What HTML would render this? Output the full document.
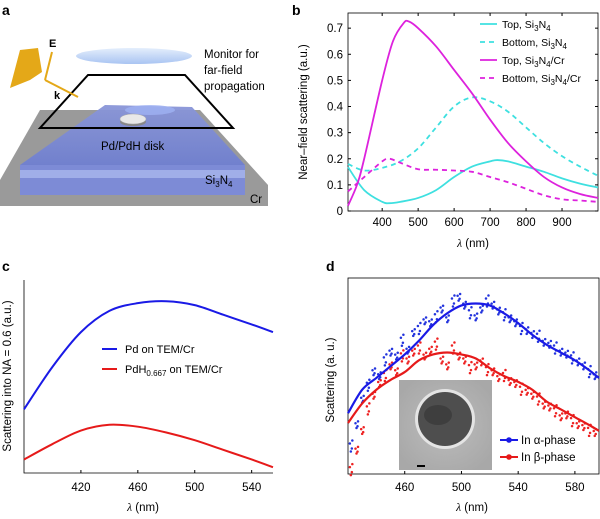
<!DOCTYPE html>
<html><head><meta charset="utf-8"><style>
body{margin:0;background:#fff;width:600px;height:514px;overflow:hidden}
svg{font-family:"Liberation Sans",sans-serif}
</style></head><body>
<svg id="fig" width="600" height="514" viewBox="0 0 600 514">
<defs>
<linearGradient id="slab" x1="0" y1="0" x2="0" y2="1"><stop offset="0" stop-color="#8a96d8"/><stop offset="1" stop-color="#6f7fd0"/></linearGradient>
<linearGradient id="lens" x1="0" y1="0" x2="0" y2="1"><stop offset="0" stop-color="#e4eefc"/><stop offset="1" stop-color="#a9c4f2"/></linearGradient>
<radialGradient id="tem" cx="0.5" cy="0.5" r="0.6"><stop offset="0" stop-color="#bdbdbd"/><stop offset="1" stop-color="#a8a8a8"/></radialGradient>
</defs>
<g>
<text x="2" y="15" font-size="14" font-weight="bold">a</text>
<polygon points="0,180 40,110 200,110 268,185 268,206 0,206" fill="#9a9a9a"/>
<polygon points="105,105 192,107 245,165 20,165" fill="url(#slab)" opacity="0.95"/>
<rect x="20" y="165" width="225" height="30" fill="#7d8bd6"/>
<rect x="20" y="170" width="225" height="8" fill="#a9b6ec" opacity="0.8"/>
<ellipse cx="150" cy="110" rx="25" ry="5" fill="#9fb2f2" opacity="0.8"/>
<ellipse cx="134" cy="56" rx="58" ry="8" fill="url(#lens)"/>
<polygon points="88,75 185,75 233,128 40,128" fill="none" stroke="#000" stroke-width="2"/>
<ellipse cx="133" cy="122" rx="13" ry="4" fill="#888"/>
<ellipse cx="133" cy="119" rx="13" ry="5" fill="#e8e8e8" stroke="#aaa" stroke-width="0.5"/>
<polygon points="10,88 20,50 38,48 42,72 30,80" fill="#e4a818"/>
<g stroke="#e4a818" stroke-width="2" fill="none">
<line x1="45" y1="80" x2="52" y2="52"/><line x1="45" y1="80" x2="78" y2="97"/>
</g>
<text x="49" y="47" font-size="11" font-weight="bold">E</text>
<text x="54" y="99" font-size="11" font-weight="bold">k</text>
<text font-size="11.5"><tspan x="204" y="58">Monitor for</tspan><tspan x="204" y="74">far-field</tspan><tspan x="204" y="90">propagation</tspan></text>
<text x="101" y="150" font-size="11.5">Pd/PdH disk</text>
<text x="205" y="184" font-size="11.5">Si<tspan font-size="8" dy="3">3</tspan><tspan dy="-3">N</tspan><tspan font-size="8" dy="3">4</tspan></text>
<text x="250" y="203" font-size="11.5">Cr</text>
</g>
<g id="pb"></g>
<g id="pc"></g>
<g id="pd"></g>
</svg>
<script>
// ---- panel b data ----
const bTopSiX=[305,350,400,420,450,500,550,600,650,700,720,750,800,850,900,950,1000];
const bTopSiY=[0.168,0.08,0.035,0.03,0.035,0.05,0.08,0.13,0.17,0.19,0.195,0.19,0.17,0.15,0.125,0.105,0.09];
const bBotSiX=[305,350,400,450,500,550,600,650,700,750,800,850,900,950,1000];
const bBotSiY=[0.18,0.155,0.165,0.19,0.24,0.32,0.40,0.435,0.42,0.38,0.32,0.26,0.21,0.17,0.135];
const bTopCrX=[305,330,350,400,430,460,475,500,550,600,650,700,750,800,850,900,950,1000];
const bTopCrY=[0.02,0.1,0.2,0.5,0.65,0.72,0.725,0.70,0.63,0.54,0.45,0.35,0.26,0.19,0.13,0.09,0.065,0.05];
const bBotCrX=[305,350,400,420,450,500,550,600,650,700,750,800,850,900,950,1000];
const bBotCrY=[0.075,0.13,0.19,0.2,0.185,0.16,0.158,0.155,0.15,0.13,0.11,0.085,0.06,0.045,0.04,0.035];
const bXTicks=[400,500,600,700,800,900];
const bYTicks=[0,0.1,0.2,0.3,0.4,0.5,0.6,0.7];
// ---- panel c data ----
const cPdX=[380,400,420,440,460,480,500,520,540,555];
const cPdY=[0.33,0.55,0.73,0.84,0.88,0.89,0.87,0.82,0.77,0.73];
const cPdHX=[380,400,420,440,460,480,500,520,540,555];
const cPdHY=[0.07,0.15,0.22,0.25,0.24,0.21,0.17,0.12,0.07,0.03];
const cXTicks=[420,460,500,540];
// ---- panel d data ----
const dFitX=[420,430,440,450,460,470,480,490,500,510,520,530,540,550,560,570,580,590,597];
const dAlphaFit=[0.31,0.43,0.49,0.55,0.61,0.68,0.76,0.82,0.86,0.87,0.86,0.82,0.77,0.71,0.66,0.62,0.58,0.53,0.49];
const dBetaFit=[0.26,0.36,0.43,0.48,0.52,0.58,0.61,0.62,0.61,0.59,0.54,0.50,0.47,0.43,0.37,0.33,0.29,0.25,0.22];
const dScatX=[422,426,430,434,438,442,446,450,454,458,462,466,470,474,478,482,486,490,494,498,502,506,510,514,518,522,526,530,534,538,542,546,550,554,558,562,566,570,574,578,582,586,590,594];
const dAlphaScat=[0.14,0.25,0.38,0.45,0.52,0.50,0.58,0.62,0.60,0.68,0.63,0.72,0.74,0.78,0.77,0.80,0.84,0.79,0.88,0.90,0.86,0.82,0.80,0.84,0.88,0.86,0.83,0.81,0.79,0.77,0.74,0.73,0.71,0.70,0.67,0.66,0.64,0.62,0.61,0.59,0.57,0.55,0.52,0.50];
const dBetaScat=[0.02,0.12,0.22,0.33,0.40,0.46,0.50,0.55,0.52,0.60,0.58,0.62,0.64,0.60,0.63,0.66,0.58,0.55,0.64,0.60,0.58,0.54,0.55,0.57,0.53,0.52,0.49,0.50,0.47,0.46,0.43,0.42,0.40,0.38,0.35,0.34,0.32,0.29,0.30,0.27,0.25,0.24,0.22,0.21];
const dXTicks=[460,500,540,580];

const NS="http://www.w3.org/2000/svg";
function mk(parent,tag,attrs,text){const e=document.createElementNS(NS,tag);for(const k in attrs)e.setAttribute(k,attrs[k]);if(text!==undefined)e.textContent=text;parent.appendChild(e);return e;}
function smooth(xs,ys,sx,sy){const p=xs.map((x,i)=>[sx(x),sy(ys[i])]);let d="M"+p[0][0]+","+p[0][1];for(let i=0;i<p.length-1;i++){const p0=p[i-1]||p[i],p1=p[i],p2=p[i+1],p3=p[i+2]||p2;d+=" C"+(p1[0]+(p2[0]-p0[0])/6)+","+(p1[1]+(p2[1]-p0[1])/6)+" "+(p2[0]-(p3[0]-p1[0])/6)+","+(p2[1]-(p3[1]-p1[1])/6)+" "+p2[0]+","+p2[1];}return d;}

(function(){
const g=document.getElementById('pb');
const L=348,R=598,T=13,B=211,x0=305,x1=1000,y0=0,y1=0.758;
const sx=v=>L+(v-x0)/(x1-x0)*(R-L), sy=v=>B-(v-y0)/(y1-y0)*(B-T);
let t=mk(g,'text',{x:292,y:15,'font-size':14,'font-weight':'bold'},'b');


let fr=mk(g,'rect',{x:L,y:T,width:R-L,height:B-T,fill:'none',stroke:'#000','stroke-width':0.8});


bXTicks.forEach(v=>{mk(g,'line',{x1:sx(v),x2:sx(v),y1:B,y2:B-3,stroke:'#000'});mk(g,'line',{x1:sx(v),x2:sx(v),y1:T,y2:T+3,stroke:'#000'});
 const l=mk(g,'text',{x:sx(v),y:226,'font-size':11.5,'text-anchor':'middle'},v);
 
 });
bYTicks.forEach(v=>{mk(g,'line',{x1:L,x2:L+3,y1:sy(v),y2:sy(v),stroke:'#000'});mk(g,'line',{x1:R,x2:R-3,y1:sy(v),y2:sy(v),stroke:'#000'});
 const l=mk(g,'text',{x:343,y:sy(v)+4,'font-size':11.5,'text-anchor':'end'},v===0?'0':v.toFixed(1));
 
 });
t=mk(g,'text',{x:473,y:247,'font-size':11.5,'text-anchor':'middle'});t.innerHTML='<tspan font-style="italic" font-family="Liberation Serif">λ</tspan> (nm)';


t=mk(g,'text',{x:0,y:0,'font-size':11.5,'text-anchor':'middle',transform:'translate(307,112) rotate(-90)'},'Near–field scattering (a.u.)');


const series=[[bTopSiX,bTopSiY,'#3ee0e0',null,'line-top-si3n4'],[bBotSiX,bBotSiY,'#3ee0e0','5,4','line-bottom-si3n4'],[bTopCrX,bTopCrY,'#dd22dd',null,'line-top-si3n4-cr'],[bBotCrX,bBotCrY,'#dd22dd','5,4','line-bottom-si3n4-cr']];
series.forEach(s=>{const p=mk(g,'path',{d:smooth(s[0],s[1],sx,sy),fill:'none',stroke:s[2],'stroke-width':1.8});if(s[3])p.setAttribute('stroke-dasharray',s[3]);
 
 });
const leg=[['#3ee0e0',null,'Top, Si<tspan font-size="8" dy="3">3</tspan><tspan dy="-3">N</tspan><tspan font-size="8" dy="3">4</tspan>'],['#3ee0e0','5,4','Bottom, Si<tspan font-size="8" dy="3">3</tspan><tspan dy="-3">N</tspan><tspan font-size="8" dy="3">4</tspan>'],['#dd22dd',null,'Top, Si<tspan font-size="8" dy="3">3</tspan><tspan dy="-3">N</tspan><tspan font-size="8" dy="3">4</tspan><tspan dy="-3">/Cr</tspan>'],['#dd22dd','5,4','Bottom, Si<tspan font-size="8" dy="3">3</tspan><tspan dy="-3">N</tspan><tspan font-size="8" dy="3">4</tspan><tspan dy="-3">/Cr</tspan>']];
[24,42,60,78].forEach((y,i)=>{const ln=mk(g,'line',{x1:480,x2:497,y1:y,y2:y,stroke:leg[i][0],'stroke-width':1.8});if(leg[i][1])ln.setAttribute('stroke-dasharray',leg[i][1]);
 const tx=mk(g,'text',{x:502,y:y+4,'font-size':10.5});tx.innerHTML=leg[i][2];
 
 });
})();

(function(){
const g=document.getElementById('pc');
const L=24,R=273,T=280,B=473,x0=380,x1=555;
const sx=v=>L+(v-x0)/(x1-x0)*(R-L), sy=v=>B-v*(B-T);
let t=mk(g,'text',{x:2,y:271,'font-size':14,'font-weight':'bold'},'c');


let ax=mk(g,'path',{d:`M${L},${T} V${B} H${R}`,fill:'none',stroke:'#000','stroke-width':0.8});


cXTicks.forEach(v=>{mk(g,'line',{x1:sx(v),x2:sx(v),y1:B,y2:B-3,stroke:'#000'});
 const l=mk(g,'text',{x:sx(v),y:491,'font-size':11.5,'text-anchor':'middle'},v);
 
 });
t=mk(g,'text',{x:143,y:511,'font-size':11.5,'text-anchor':'middle'});t.innerHTML='<tspan font-style="italic" font-family="Liberation Serif">λ</tspan> (nm)';


t=mk(g,'text',{x:0,y:0,'font-size':11.5,'text-anchor':'middle',transform:'translate(11,376) rotate(-90)'},'Scattering into NA = 0.6 (a.u.)');


let p=mk(g,'path',{d:smooth(cPdX,cPdY,sx,sy),fill:'none',stroke:'#1a1ae6','stroke-width':2});


p=mk(g,'path',{d:smooth(cPdHX,cPdHY,sx,sy),fill:'none',stroke:'#e61a1a','stroke-width':2});


mk(g,'line',{x1:102,x2:117,y1:349,y2:349,stroke:'#1a1ae6','stroke-width':2});
t=mk(g,'text',{x:125,y:353,'font-size':11},'Pd on TEM/Cr');


mk(g,'line',{x1:102,x2:117,y1:369,y2:369,stroke:'#e61a1a','stroke-width':2});
t=mk(g,'text',{x:125,y:373,'font-size':11});t.innerHTML='PdH<tspan font-size="8" dy="3">0.667</tspan><tspan dy="-3"> on TEM/Cr</tspan>';


})();

(function(){
const g=document.getElementById('pd');
const L=348,R=599,T=278,B=474,x0=420,x1=597;
const sx=v=>L+(v-x0)/(x1-x0)*(R-L), sy=v=>B-v*(B-T);
let t=mk(g,'text',{x:326,y:271,'font-size':14,'font-weight':'bold'},'d');


let fr=mk(g,'rect',{x:L,y:T,width:R-L,height:B-T,fill:'none',stroke:'#000','stroke-width':0.8});


dXTicks.forEach(v=>{mk(g,'line',{x1:sx(v),x2:sx(v),y1:B,y2:B-3,stroke:'#000'});
 const l=mk(g,'text',{x:sx(v),y:491,'font-size':11.5,'text-anchor':'middle'},v);
 
 });
t=mk(g,'text',{x:472,y:511,'font-size':11.5,'text-anchor':'middle'});t.innerHTML='<tspan font-style="italic" font-family="Liberation Serif">λ</tspan> (nm)';


t=mk(g,'text',{x:0,y:0,'font-size':11.5,'text-anchor':'middle',transform:'translate(334,380) rotate(-90)'},'Scattering (a. u.)');


const off=[[-1,-3],[1,2],[0,5],[1.5,-6]];
[[dAlphaScat,'#2233dd','scatter-alpha'],[dBetaScat,'#ee2222','scatter-beta']].forEach(s=>{
 const sg=mk(g,'g',{fill:s[1]});
 
 
 dScatX.forEach((x,i)=>off.forEach(o=>mk(sg,'circle',{cx:sx(x)+o[0],cy:sy(s[0][i])+o[1]*(i%3===0?1:0.6),r:1.25})));});
let p=mk(g,'path',{d:smooth(dFitX,dAlphaFit,sx,sy),fill:'none',stroke:'#1a1ae6','stroke-width':2.2});


p=mk(g,'path',{d:smooth(dFitX,dBetaFit,sx,sy),fill:'none',stroke:'#e61a1a','stroke-width':2.2});


const ins=mk(g,'g',{});


mk(ins,'rect',{x:399,y:380,width:93,height:90,fill:'url(#tem)'});
mk(ins,'circle',{cx:445,cy:419,r:30,fill:'#e4e4e4'});
mk(ins,'circle',{cx:445,cy:419,r:27,fill:'#4e4e4e'});
mk(ins,'ellipse',{cx:438,cy:415,rx:14,ry:10,fill:'#333',opacity:0.6});
mk(ins,'rect',{x:417,y:465,width:8,height:2,fill:'#000'});
mk(g,'line',{x1:500,x2:518,y1:440,y2:440,stroke:'#1a1ae6','stroke-width':2});
mk(g,'circle',{cx:509,cy:440,r:2.8,fill:'#1a1ae6'});
t=mk(g,'text',{x:521,y:444,'font-size':11.5},'In α-phase');


mk(g,'line',{x1:500,x2:518,y1:457,y2:457,stroke:'#e61a1a','stroke-width':2});
mk(g,'circle',{cx:509,cy:457,r:2.8,fill:'#e61a1a'});
t=mk(g,'text',{x:521,y:461,'font-size':11.5},'In β-phase');


})();
</script>
</body></html>
